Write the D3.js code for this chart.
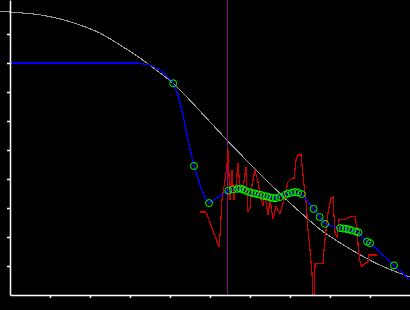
<!DOCTYPE html>
<html>
<head>
<meta charset="utf-8">
<script src="https://cdnjs.cloudflare.com/ajax/libs/d3/7.8.5/d3.min.js"></script>
<style>
  body { margin: 0; background: #000; }
  svg { display: block; }
</style>
</head>
<body>
<div id="chart"></div>
<script>
// Data
// ==============================
var xTicks = [1, 2, 3, 4, 5, 6, 7, 8, 9];
var yTicks = [1, 2, 3, 4, 5, 6, 7, 8, 9];

// smooth gray reference curve
var curveX = [-0.25, 0.25, 0.75, 1.25, 1.75, 2.25, 2.75, 3.25, 3.75, 4.08, 4.75, 5.425, 5.9, 6.5, 7.25, 7.775, 8.5, 9.25, 10];
var curveY = [9.78, 9.73, 9.66, 9.52, 9.31, 9.03, 8.62, 8.17, 7.66, 7.30, 6.34, 5.34, 4.66, 3.83, 2.86, 2.24, 1.59, 1.03, 0.62];

// noisy red series
var redX = [4.75, 4.9, 5.225, 5.26, 5.3, 5.375, 5.425, 5.45, 5.5, 5.55, 5.6, 5.65, 5.7, 5.75, 5.825, 5.9, 5.95, 6.0, 6.05, 6.125,
  6.2, 6.275, 6.325, 6.375, 6.45, 6.5, 6.575, 6.65, 6.75, 6.875, 6.95, 7.025, 7.1, 7.15, 7.2, 7.275, 7.3,
  7.35, 7.4, 7.45, 7.5, 7.55, 7.575, 7.61, 7.625, 7.825, 7.85, 7.9, 7.95, 8.025, 8.075, 8.125, 8.175, 8.225, 8.325, 8.4, 8.45,
  8.575, 8.625, 8.675, 8.71, 8.75, 8.8, 8.875, 8.95, 8.96, 9.175];
var redY = [2.86, 2.86, 1.66, 2.24, 3.28, 3.97, 4.48, 5.0, 3.28, 4.31, 3.28, 3.79, 4.55, 3.62, 3.69, 4.41, 2.86, 3.0, 3.79, 4.31,
  3.90, 3.28, 3.10, 3.45, 2.76, 3.30, 2.62, 3.05, 2.80, 3.40, 3.90, 4.0, 4.03, 4.66, 4.83, 4.83, 4.48,
  3.79, 3.28, 2.24, 1.55, 0.76, 0, 0, 1.10, 1.10, 1.55, 2.24, 2.83, 3.34, 3.38, 2.14, 2.0, 2.59, 2.59, 2.59, 2.66,
  2.72, 2.72, 2.31, 1.55, 1.14, 0.97, 1.10, 1.14, 1.38, 1.38];

// fitted blue line (lead-in part, then it runs through the markers)
var leadX = [0, 3.175, 3.5, 3.75, 3.95, 4.08, 4.2, 4.325, 4.45, 4.6, 4.75, 4.875];
var leadY = [8.0, 8.0, 7.93, 7.76, 7.52, 7.30, 6.9, 6.21, 5.34, 4.45, 3.79, 3.34];
var tailX = [10];
var tailY = [0.52];

// green markers
var markX = [4.975, 5.46, 5.575, 5.69, 5.76, 5.825, 5.89, 5.975, 6.05, 6.125, 6.2, 6.275, 6.35, 6.425, 6.5, 6.575, 6.65, 6.75, 6.875, 6.95,
  7.05, 7.125, 7.2, 7.29, 7.59, 7.74, 7.875, 8.25, 8.325, 8.4, 8.475, 8.55, 8.65, 8.71, 8.925, 9.0, 9.6];
var markY = [3.17, 3.60, 3.64, 3.66, 3.67, 3.64, 3.59, 3.55, 3.52, 3.50, 3.47, 3.45, 3.41, 3.40, 3.36, 3.34, 3.34, 3.38, 3.45, 3.50,
  3.53, 3.55, 3.53, 3.48, 2.97, 2.69, 2.45, 2.31, 2.29, 2.28, 2.26, 2.22, 2.19, 2.16, 1.84, 1.79, 1.02];
var extraMarkX = [4.08, 4.6];
var extraMarkY = [7.30, 4.45];

var cursorX = 5.425;

// set up svg
// ==============================
var svgWidth = 410;
var svgHeight = 310;

var svg = d3.select("#chart")
  .append("svg")
  .attr("width", svgWidth)
  .attr("height", svgHeight)
  .style("background", "#000");

var xScale = d3.scaleLinear().domain([0, 10]).range([10, 410]);
var yScale = d3.scaleLinear().domain([0, 295 / 29]).range([295, 0]);

function zip(xs, ys) {
  return xs.map(function(x, i) { return [x, ys[i]]; });
}

var line = d3.line()
  .x(d => xScale(d[0]))
  .y(d => yScale(d[1]));

// gray curve
svg.append("path")
  .datum(zip(curveX, curveY))
  .attr("fill", "none")
  .attr("stroke", "#9a9a9a")
  .attr("stroke-width", 1.1)
  .attr("shape-rendering", "crispEdges")
  .attr("d", line.curve(d3.curveMonotoneX));

// vertical cursor
svg.append("line")
  .attr("x1", Math.round(xScale(cursorX)) + 0.5).attr("x2", Math.round(xScale(cursorX)) + 0.5)
  .attr("y1", 0).attr("y2", yScale(0))
  .attr("stroke", "#80107f")
  .attr("stroke-width", 1);

// red series
svg.append("path")
  .datum(zip(redX, redY))
  .attr("fill", "none")
  .attr("stroke", "#cc0000")
  .attr("stroke-width", 1.2)
  .attr("shape-rendering", "crispEdges")
  .attr("d", line.curve(d3.curveLinear));

// blue line
var bluePts = zip(leadX, leadY).concat(zip(markX, markY), zip(tailX, tailY));
svg.append("path")
  .datum(bluePts)
  .attr("fill", "none")
  .attr("stroke", "#0000ff")
  .attr("stroke-width", 1.3)
  .attr("shape-rendering", "crispEdges")
  .attr("d", line.curve(d3.curveLinear));

// green circles
var marks = zip(extraMarkX, extraMarkY).concat(zip(markX, markY));
svg.selectAll("circle")
  .data(marks)
  .enter()
  .append("circle")
  .attr("cx", d => xScale(d[0]))
  .attr("cy", d => yScale(d[1]))
  .attr("r", 3.5)
  .attr("fill", "none")
  .attr("stroke", "#00ff00")
  .attr("stroke-width", 1);

// axes
// ==============================
var bottomAxis = d3.axisBottom(xScale).tickValues(xTicks).tickSize(3).tickSizeOuter(0).tickFormat("");
var leftAxis = d3.axisLeft(yScale).tickValues(yTicks).tickSize(3).tickSizeOuter(0).tickFormat("");

var gx = svg.append("g")
  .attr("transform", `translate(0, ${yScale(0)})`)
  .call(bottomAxis);
var gy = svg.append("g")
  .attr("transform", `translate(${xScale(0)}, 0)`)
  .call(leftAxis);

[gx, gy].forEach(function(g) {
  g.selectAll("path, line").attr("stroke", "#fff").attr("stroke-width", 1.5);
});
</script>
</body>
</html>
